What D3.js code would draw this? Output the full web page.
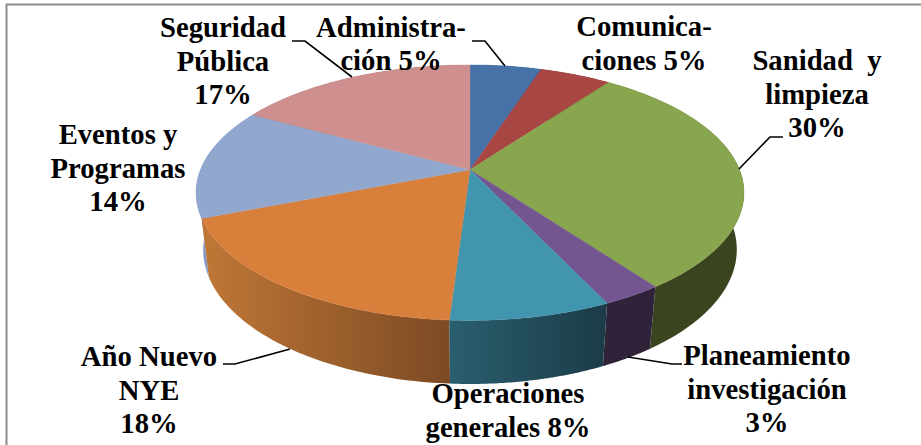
<!DOCTYPE html>
<html lang="es">
<head>
<meta charset="utf-8">
<script src="https://cdn.jsdelivr.net/npm/d3@7/dist/d3.min.js"></script>
<style>
  html, body { margin: 0; padding: 0; background: #fff; }
  svg { display: block; }
  text { font-family: "Liberation Serif", serif; font-weight: bold; font-size: 28.7px; fill: #000; white-space: pre; }
</style>
</head>
<body>
<svg id="chart" width="921" height="445"></svg>
<script>
// Budget shares, clockwise from twelve o'clock
const categories = ["Administración", "Comunicaciones", "Sanidad y limpieza", "Planeamiento investigación",
                    "Operaciones generales", "Año Nuevo NYE", "Eventos y Programas", "Seguridad Pública"];
const shares = [5, 5, 30, 3, 8, 18, 14, 17];
const labelLines = [
  ["Administra-", "ción 5%"],
  ["Comunica-", "ciones 5%"],
  ["Sanidad  y", "limpieza", "30%"],
  ["Planeamiento", "investigación", "3%"],
  ["Operaciones", "generales 8%"],
  ["Año Nuevo", "NYE", "18%"],
  ["Eventos y", "Programas", "14%"],
  ["Seguridad", "Pública", "17%"]
];

// Slice styling
const topColors  = ["#4672a8", "#a84644", "#88a64e", "#735690", "#4195ae", "#d87f3c", "#92a7ce", "#cf8f8e"];
const wallStart  = ["#2c4768", "#692c2b", "#3a4520", "#2e2338", "#2a5f6f", "#c07736", "#7f97c8", "#80595a"];
const wallEnd    = ["#2c4768", "#692c2b", "#3a4520", "#2e2338", "#1b3b47", "#7c4a24", "#7f97c8", "#80595a"];

// Label anchors (centre x, first baseline) and leader polylines
const labelAnchors = [[391, 36.5], [644, 36], [817, 70], [767, 365], [508, 403], [149, 366], [118, 144], [223, 37]];
const lineStep = 33.5;
const leaders = [
  [[472, 41], [485, 41], [505, 66]],
  [[783, 137], [770, 137], [739, 169]],
  [[682, 364], [672, 364], [628, 357]],
  [[223, 364], [235, 364], [290, 349]],
  [[292, 41], [305, 41], [352, 77]]
];

// Perspective camera for the disc: x/y are in unit-circle space, z is 0 on the
// top face and 1 on the bottom face.
const camera = { cx: 470, cy: 169.7, ax: 269.5, ay: 123.6, drop: 57.7, kY: 0.18, kZ: 0.026 };
function project(theta, radius, z) {
  const X = radius * Math.sin(theta), Y = radius * Math.cos(theta);
  const w = 1 + camera.kY * Y + camera.kZ * z;
  return [camera.cx + camera.ax * X / w,
          camera.cy + (-camera.ay * Y + camera.drop * z) / w];
}

const svg = d3.select("#chart");
const defs = svg.append("defs");

// Chart frame: top and left rules only
svg.append("path").attr("d", d3.line()([[921, 4.5], [6.5, 4.5], [6.5, 445]]))
   .attr("fill", "none").attr("stroke", "#8c8c8c").attr("stroke-width", 2);

const arcs = d3.pie().sort(null).value(d => d)(shares);
const line = d3.line();
const steps = d3.range(0, 1.0001, 1 / 60);
const rim = (a0, a1, z) => steps.map(t => project(a0 + (a1 - a0) * t, 1, z));

// Side walls, farthest first, so nearer slices paint over at the silhouette
const wallOrder = d3.range(arcs.length).sort((i, j) => {
  const mid = a => (a.startAngle + a.endAngle) / 2;
  return Math.abs(mid(arcs[j]) - Math.PI) - Math.abs(mid(arcs[i]) - Math.PI);
});
const gWalls = svg.append("g");
wallOrder.forEach(i => {
  const a = arcs[i];
  const top = rim(a.startAngle, a.endAngle, 0);
  const bottom = rim(a.startAngle, a.endAngle, 1).reverse();
  const xs = top.concat(bottom).map(p => p[0]);
  const grad = defs.append("linearGradient").attr("id", "wall" + i)
    .attr("gradientUnits", "userSpaceOnUse")
    .attr("x1", d3.min(xs)).attr("x2", d3.max(xs)).attr("y1", 0).attr("y2", 0);
  grad.append("stop").attr("offset", 0).attr("stop-color", wallStart[i]);
  grad.append("stop").attr("offset", 1).attr("stop-color", wallEnd[i]);
  gWalls.append("path").attr("d", line(top.concat(bottom)) + "Z").attr("fill", `url(#wall${i})`);
});

// Top face
const apex = project(0, 0, 0);
svg.append("g").selectAll("path").data(arcs).join("path")
  .attr("d", a => line([apex].concat(rim(a.startAngle, a.endAngle, 0))) + "Z")
  .attr("fill", (a, i) => topColors[i])
  .attr("stroke", (a, i) => topColors[i]).attr("stroke-width", 0.4);

// Leader lines
svg.append("g").selectAll("path").data(leaders).join("path")
  .attr("d", line).attr("fill", "none").attr("stroke", "#000").attr("stroke-width", 1.6);

// Labels
const labels = svg.append("g").attr("text-anchor", "middle");
labelLines.forEach((lines, i) => {
  const [x, y] = labelAnchors[i];
  const t = labels.append("text").attr("aria-label", categories[i]);
  lines.forEach((s, n) => t.append("tspan").attr("x", x).attr("y", y + n * lineStep).text(s));
});
</script>
</body>
</html>
